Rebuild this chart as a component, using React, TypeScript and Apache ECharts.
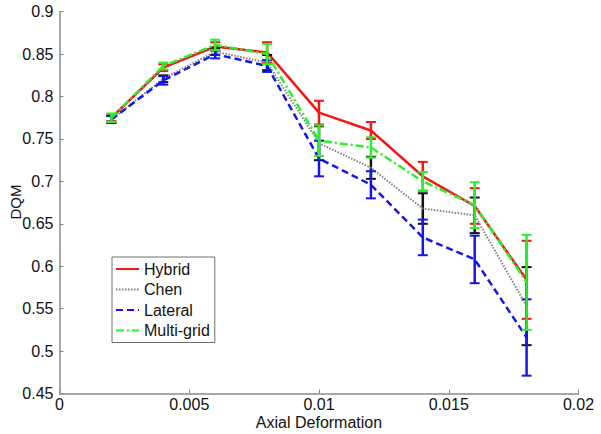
import React, { useEffect, useRef } from "react";
import * as echarts from "echarts";

const xs = [0.002, 0.004, 0.006, 0.008, 0.01, 0.012, 0.014, 0.016, 0.018];
const xTicks = ["0", "0.005", "0.01", "0.015", "0.02"];

const hybrid = [0.775, 0.834, 0.859, 0.852, 0.781, 0.760, 0.706, 0.671, 0.584];
const hybridErr = [0.004, 0.004, 0.005, 0.012, 0.014, 0.010, 0.017, 0.021, 0.046];

const chen = [0.773, 0.821, 0.853, 0.840, 0.745, 0.716, 0.668, 0.660, 0.553];
const chenErr = [0.004, 0.004, 0.004, 0.009, 0.020, 0.013, 0.018, 0.021, 0.046];

const lateral = [0.773, 0.819, 0.850, 0.836, 0.727, 0.696, 0.634, 0.608, 0.516];
const lateralErr = [0.004, 0.005, 0.005, 0.007, 0.021, 0.016, 0.021, 0.028, 0.045];

const multigrid = [0.775, 0.836, 0.861, 0.850, 0.748, 0.740, 0.700, 0.672, 0.581];
const multigridErr = [0.005, 0.004, 0.006, 0.012, 0.018, 0.012, 0.011, 0.027, 0.056];

const FONT = "'Liberation Sans', Arial, sans-serif";

function errSeries(name: string, vals: number[], errs: number[], color: string, z: number) {
  return {
    type: "custom",
    name: name + "-err",
    z,
    data: xs.map((x, i) => [x, vals[i] - errs[i], vals[i] + errs[i]]),
    encode: { x: 0, y: [1, 2] },
    renderItem: (_params: any, api: any) => {
      const x = api.value(0);
      const lo = api.coord([x, api.value(1)]);
      const hi = api.coord([x, api.value(2)]);
      const w = 5;
      return {
        type: "group",
        children: [
          { type: "line", shape: { x1: lo[0], y1: lo[1], x2: hi[0], y2: hi[1] }, style: { stroke: color, lineWidth: 2.5 } },
          { type: "line", shape: { x1: lo[0] - w, y1: lo[1], x2: lo[0] + w, y2: lo[1] }, style: { stroke: color, lineWidth: 2 } },
          { type: "line", shape: { x1: hi[0] - w, y1: hi[1], x2: hi[0] + w, y2: hi[1] }, style: { stroke: color, lineWidth: 2 } },
        ],
      };
    },
  };
}

function lineSeries(name: string, vals: number[], color: string, width: number, type: any, z: number) {
  return {
    type: "line",
    name,
    z,
    symbol: "none",
    showSymbol: false,
    data: xs.map((x, i) => [x, vals[i]]),
    lineStyle: { color, width, type },
    itemStyle: { color },
  };
}

export default function App() {
  const ref = useRef<HTMLDivElement>(null);
  useEffect(() => {
    if (!ref.current) return;
    const chart = echarts.init(ref.current, undefined, { renderer: "svg" });
    const red = "#f01818";
    const gray = "#808080";
    const blue = "#1616e6";
    const green = "#2cf02c";
    chart.setOption({
      animation: false,
      backgroundColor: "#ffffff",
      textStyle: { fontFamily: FONT },
      grid: { left: 59.5, right: 22.5, top: 11.7, bottom: 40.5, outerBoundsMode: "none", containLabel: false },
      graphic: [
        {
          type: "text",
          x: 15,
          y: 202,
          rotation: Math.PI / 2,
          style: {
            text: "DQM",
            fontFamily: FONT,
            fontSize: 15,
            fill: "#111",
            align: "center",
            verticalAlign: "middle",
          },
        },
      ],
      legend: {
        data: ["Hybrid", "Chen", "Lateral", "Multi-grid"],
        orient: "vertical",
        left: 112,
        top: 257,
        padding: [4, 5, 4, 3],
        itemGap: 4.5,
        itemWidth: 23,
        itemHeight: 12,
        itemTextGap: 2,
        itemStyle: { opacity: 0, borderWidth: 0 },
        borderColor: "#707070",
        borderWidth: 1,
        backgroundColor: "#ffffff",
        textStyle: { fontFamily: FONT, fontSize: 16, color: "#111" },
      },
      xAxis: {
        type: "value",
        min: 0,
        max: 0.02,
        interval: 0.005,
        name: "Axial Deformation",
        nameLocation: "middle",
        nameGap: 21,
        nameMoveOverlap: false,
        nameTextStyle: { fontFamily: FONT, fontSize: 16, color: "#111" },
        axisLine: { show: true, lineStyle: { color: "#8a8a8a", width: 1.5 } },
        axisTick: { show: true, inside: true, length: 4, lineStyle: { color: "#8a8a8a" } },
        splitLine: { show: false },
        axisLabel: {
          fontFamily: FONT,
          fontSize: 16,
          color: "#111",
          margin: 3,
          formatter: (v: number) => {
            const idx = Math.round(v / 0.005);
            return xTicks[idx] ?? String(v);
          },
        },
      },
      yAxis: {
        type: "value",
        min: 0.45,
        max: 0.9,
        interval: 0.05,
        axisLine: { show: true, lineStyle: { color: "#8a8a8a", width: 1.5 } },
        axisTick: { show: true, inside: true, length: 4, lineStyle: { color: "#8a8a8a" } },
        splitLine: { show: false },
        axisLabel: {
          fontFamily: FONT,
          fontSize: 16,
          color: "#111",
          margin: 6,
          formatter: (v: number) => String(Math.round(v * 100) / 100),
        },
      },
      series: [
        lineSeries("Hybrid", hybrid, red, 2.5, "solid", 2),
        errSeries("Hybrid", hybrid, hybridErr, red, 2),
        lineSeries("Chen", chen, gray, 2, [1.5, 1.5], 3),
        errSeries("Chen", chen, chenErr, "#111111", 3),
        lineSeries("Lateral", lateral, blue, 2.5, [7, 4], 4),
        errSeries("Lateral", lateral, lateralErr, blue, 4),
        lineSeries("Multi-grid", multigrid, green, 2.5, [8, 3, 2, 3], 5),
        errSeries("Multi-grid", multigrid, multigridErr, green, 5),
      ],
    });
    return () => chart.dispose();
  }, []);
  return <div ref={ref} style={{ width: 601, height: 434, position: "absolute", left: 0, top: 0 }} />;
}
